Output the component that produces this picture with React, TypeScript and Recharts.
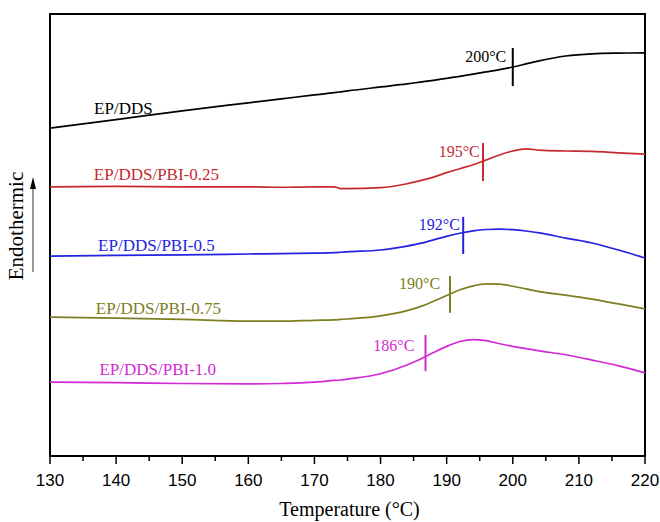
import React from 'react';
import {
  ComposedChart,
  Line,
  XAxis,
  YAxis,
  ReferenceArea,
  ReferenceLine,
  ReferenceDot,
} from 'recharts';

// temperature grid (°C)
const temps = [130, 140, 150, 160, 165, 170, 173, 174, 175, 180, 184, 186, 188, 190, 192, 194, 196, 198, 200, 202, 204, 208, 212, 216, 220];

// heat flow, arbitrary offset units (endo up)
const epDds = [74.2, 76.1, 78.1, 79.9, 80.8, 81.7, 82.2, 82.4, 82.6, 83.5, 84.2, 84.6, 85.0, 85.45, 85.9, 86.4, 86.9, 87.4, 88.0, 88.7, 89.4, 90.5, 91.0, 91.15, 91.2];
const pbi025 = [60.9, 61.0, 60.9, 60.9, 60.8, 60.9, 60.9, 60.5, 60.5, 60.7, 61.6, 62.3, 63.1, 64.1, 65.0, 65.9, 67.0, 68.1, 69.0, 69.5, 69.2, 69.0, 68.9, 68.6, 68.3];
const pbi05 = [45.2, 45.4, 45.5, 45.7, 45.8, 45.9, 46.0, 46.1, 46.2, 46.6, 47.5, 48.1, 48.9, 49.7, 50.4, 50.95, 51.25, 51.35, 51.2, 50.9, 50.5, 49.3, 48.2, 46.6, 44.8];
const pbi075 = [31.4, 31.2, 30.9, 30.5, 30.5, 30.7, 30.8, 30.9, 31.0, 31.7, 32.9, 33.8, 35.0, 36.3, 37.6, 38.5, 38.95, 38.9, 38.4, 37.8, 37.2, 36.4, 35.5, 34.4, 33.3];
const pbi10 = [16.7, 16.6, 16.4, 16.3, 16.4, 16.7, 17.1, 17.2, 17.4, 18.6, 20.6, 21.9, 23.4, 24.8, 25.9, 26.35, 26.1, 25.4, 24.8, 24.3, 23.8, 22.9, 21.7, 20.4, 18.8];

const seriesNames = ['EP/DDS', 'EP/DDS/PBI-0.25', 'EP/DDS/PBI-0.5', 'EP/DDS/PBI-0.75', 'EP/DDS/PBI-1.0'];
const seriesKeys = ['s0', 's1', 's2', 's3', 's4'];
const seriesColors = ['#000000', '#c62a2f', '#2222e0', '#7d7d22', '#d42ad4'];
// curve name label centres [T, value]
const nameLabelPos = [[141.1, 78.7], [146.1, 63.6], [146.1, 47.7], [146.4, 33.3], [146.3, 19.5]];

// Tg markers: temperature, segment top/bottom, label text and label centre
const tgTemps = [200, 195.5, 192.5, 190.5, 186.8];
const tgTop = [92.3, 70.8, 54.1, 40.7, 27.4];
const tgBottom = [83.7, 62.2, 45.7, 32.4, 19.2];
const tgLabels = ['200°C', '195°C', '192°C', '190°C', '186°C'];
const tgLabelPos = [[195.9, 90.3], [191.9, 68.8], [188.9, 52.3], [185.9, 39.1], [182.0, 25.1]];

const xTicks = [130, 135, 140, 145, 150, 155, 160, 165, 170, 175, 180, 185, 190, 195, 200, 205, 210, 215, 220];

const data = temps.map((t, i) => ({
  t,
  s0: epDds[i],
  s1: pbi025[i],
  s2: pbi05[i],
  s3: pbi075[i],
  s4: pbi10[i],
}));

const serif = '"Liberation Serif", "Times New Roman", serif';
const sans = '"Liberation Sans", Arial, sans-serif';

const XTick = (props: any) => {
  const { x, y, payload } = props;
  const major = payload.value % 10 === 0;
  return (
    <g>
      <line x1={x} y1={y} x2={x} y2={y + (major ? 8 : 5)} stroke="#000" strokeWidth={1.5} />
      {major && (
        <text x={x} y={y + 24} textAnchor="middle" dominantBaseline="central" fontFamily={sans} fontSize={17} fill="#000">
          {payload.value}
        </text>
      )}
    </g>
  );
};

const XTitle = (props: any) => {
  const { viewBox } = props;
  const cx = viewBox.x + viewBox.width / 2 + 2;
  return (
    <text x={cx} y={viewBox.y + 53} textAnchor="middle" dominantBaseline="central" fontFamily={serif} fontSize={20} fill="#000">
      Temperature (°C)
    </text>
  );
};

const EndoLabel = (props: any) => {
  const { viewBox } = props;
  const cy = viewBox.y + 212;
  const tx = viewBox.x + 16;
  const ax = viewBox.x + 33;
  return (
    <g>
      <text
        x={tx}
        y={cy}
        transform={`rotate(-90 ${tx} ${cy})`}
        textAnchor="middle"
        dominantBaseline="central"
        fontFamily={serif}
        fontSize={21}
        fill="#000"
      >
        Endothermic
      </text>
      <line x1={ax} y1={cy + 46} x2={ax} y2={cy - 38} stroke="#555" strokeWidth={1.2} />
      <path d={`M ${ax - 3} ${cy - 37} L ${ax} ${cy - 49} L ${ax + 3} ${cy - 37} Z`} fill="#000" />
    </g>
  );
};

const TgLabel = (props: any) => {
  const { viewBox, value, color, size } = props;
  return (
    <text x={viewBox.x} y={viewBox.y} textAnchor="middle" dominantBaseline="central" fontFamily={serif} fontSize={size} fill={color}>
      {value}
    </text>
  );
};

export default function App() {
  return (
    <div style={{ position: 'absolute', left: 0, top: 0, background: '#fff' }}>
      <ComposedChart width={660} height={522} data={data} margin={{ top: 14, right: 15, left: 0, bottom: 0 }}>
        <XAxis
          dataKey="t"
          type="number"
          domain={[130, 220]}
          ticks={xTicks}
          interval={0}
          tickSize={0}
          tickMargin={0}
          tickLine={false}
          axisLine={{ stroke: '#000', strokeWidth: 2 }}
          tick={<XTick />}
          height={66}
          label={{ content: <XTitle /> }}
        />
        <YAxis
          type="number"
          domain={[0, 100]}
          width={50}
          tick={false}
          tickLine={false}
          axisLine={false}
          label={{ content: <EndoLabel /> }}
        />
        <ReferenceArea x1={130} x2={220} y1={0} y2={100} fill="none" stroke="#000" strokeWidth={2} ifOverflow="visible" />
        {seriesKeys.map((k, i) => (
          <Line
            key={k}
            dataKey={k}
            name={seriesNames[i]}
            type="monotone"
            stroke={seriesColors[i]}
            strokeWidth={1.7}
            dot={false}
            activeDot={false}
            isAnimationActive={false}
          />
        ))}
        {tgTemps.map((t, i) => (
          <ReferenceLine
            key={`tg-${i}`}
            segment={[{ x: t, y: tgTop[i] }, { x: t, y: tgBottom[i] }]}
            stroke={seriesColors[i]}
            strokeWidth={2}
          />
        ))}
        {tgLabels.map((lab, i) => (
          <ReferenceDot
            key={`tgl-${i}`}
            x={tgLabelPos[i][0]}
            y={tgLabelPos[i][1]}
            r={0}
            stroke="none"
            fill="none"
            label={<TgLabel value={lab} color={seriesColors[i]} size={16} />}
          />
        ))}
        {seriesNames.map((n, i) => (
          <ReferenceDot
            key={`nl-${i}`}
            x={nameLabelPos[i][0]}
            y={nameLabelPos[i][1]}
            r={0}
            stroke="none"
            fill="none"
            label={<TgLabel value={n} color={seriesColors[i]} size={17} />}
          />
        ))}
      </ComposedChart>
    </div>
  );
}
